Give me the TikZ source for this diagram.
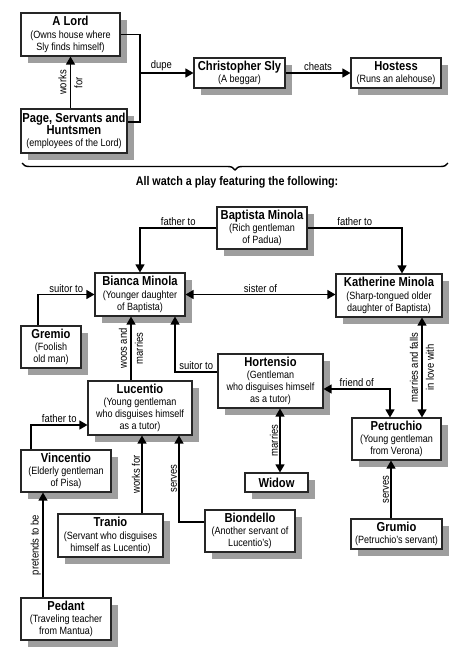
\documentclass[tikz,border=0pt]{standalone}
\usepackage{fontspec}
\setmainfont{Liberation Sans}[FakeStretch=0.86]
\usetikzlibrary{arrows.meta,shadows,decorations.pathreplacing}

\newcommand{\titlefont}{\bfseries\fontsize{13}{14}\selectfont}
\newcommand{\subfont}{\fontsize{10.5}{12.2}\selectfont}
\newcommand{\tagfont}{\fontsize{11}{13}\selectfont}
\newcommand{\headfont}{\bfseries\fontsize{12.5}{14}\selectfont}
\newcommand{\who}[2]{{\titlefont #1}\\#2}

\tikzset{
  role/.style={draw=black!85, line width=1.1pt, fill=white, align=center,
    inner sep=1pt, font=\subfont,
    drop shadow={shadow xshift=7pt, shadow yshift=-7pt, fill=black!38, opacity=1}},
  link/.style={line width=1.2pt, -{Triangle[length=8pt,width=9pt]}},
  both/.style={line width=1.2pt, {Triangle[length=8pt,width=9pt]}-{Triangle[length=8pt,width=9pt]}},
  tag/.style={font=\tagfont, inner sep=1.5pt},
}

\begin{document}
\begin{tikzpicture}[x=1pt,y=-1pt]
    \useasboundingbox (0,0) rectangle (474,662);

    % Induction: the Lord's trick on Sly
    \node[role, minimum width=99pt, minimum height=43pt] (lord) at (70.5,34.5) {\who{A Lord}{(Owns house where\\Sly finds himself)}};
    \node[role, minimum width=106pt, minimum height=44pt] (page) at (74,131) {{\titlefont Page, Servants and}\\{\titlefont Huntsmen}\\(employees of the Lord)};
    \node[role, minimum width=91pt, minimum height=30pt] (sly) at (239.5,73) {\who{Christopher Sly}{(A beggar)}};
    \node[role, minimum width=90pt, minimum height=30pt] (hostess) at (396,73) {\who{Hostess}{(Runs an alehouse)}};

    \draw[link] (lord.south |- page.north) -- node[tag, rotate=90, align=center] {works\\[3pt]for} (lord.south);
    \coordinate (dupej) at (140,73);
    \draw[line width=1.2pt] (lord.east) -| (dupej) |- ([yshift=9pt]page.east);
    \draw[link] (dupej) -- node[tag, above, pos=0.4] {dupe} (sly);
    \draw[link] (sly) -- node[tag, above] {cheats} (hostess);

    % Brace and heading
    \draw[line width=1.4pt, decorate, decoration={brace, amplitude=7pt}] (448,163) -- (22,163);
    \node[font=\headfont] (playhead) at (237,182) {All watch a play featuring the following:};

    % The play: Minola family
    \node[role, minimum width=90pt, minimum height=42pt] (baptista) at (262,228) {\who{Baptista Minola}{(Rich gentleman\\of Padua)}};
    \node[role, minimum width=90pt, minimum height=43pt] (bianca) at (140,294.5) {\who{Bianca Minola}{(Younger daughter\\of Baptista)}};
    \node[role, minimum width=106pt, minimum height=43pt] (katherine) at (389,295.5) {\who{Katherine Minola}{(Sharp-tongued older\\daughter of Baptista)}};

    % Suitors and their people
    \node[role, minimum width=60pt, minimum height=42pt] (gremio) at (51,347) {\who{Gremio}{(Foolish\\old man)}};
    \node[role, minimum width=104pt, minimum height=54pt] (lucentio) at (140,408) {\who{Lucentio}{(Young gentleman\\who disguises himself\\as a tutor)}};
    \node[role, minimum width=105pt, minimum height=54pt] (hortensio) at (270.5,381) {\who{Hortensio}{(Gentleman\\who disguises himself\\as a tutor)}};
    \node[role, minimum width=89pt, minimum height=42pt] (petruchio) at (396.5,439) {\who{Petruchio}{(Young gentleman\\from Verona)}};
    \node[role, minimum width=63pt, minimum height=19pt] (widow) at (276.5,482.5) {{\titlefont Widow}};
    \node[role, minimum width=91pt, minimum height=30pt] (grumio) at (396.5,534) {\who{Grumio}{(Petruchio's servant)}};
    \node[role, minimum width=90pt, minimum height=42pt] (vincentio) at (66,471) {\who{Vincentio}{(Elderly gentleman\\of Pisa)}};
    \node[role, minimum width=105pt, minimum height=43pt] (tranio) at (110.5,535.5) {\who{Tranio}{(Servant who disguises\\himself as Lucentio)}};
    \node[role, minimum width=90pt, minimum height=42pt] (biondello) at (250,531) {\who{Biondello}{(Another servant of\\Lucentio's)}};
    \node[role, minimum width=90pt, minimum height=42pt] (pedant) at (66,619) {\who{Pedant}{(Traveling teacher\\from Mantua)}};

    % Relations
    \draw[link] (baptista.west) -| node[tag, above, pos=0.25] {father to} (bianca.north);
    \draw[link] (baptista.east) -| node[tag, above, pos=0.25] {father to} ([xshift=13pt]katherine.north);
    \draw[both] (bianca.east) -- node[tag, above] {sister of} (bianca.east -| katherine.west);
    \draw[link] ([xshift=-13pt]gremio.north) |- node[tag, above, pos=0.75] {suitor to} (bianca.west);
    \draw[link] ([xshift=-9pt]lucentio.north) -- node[tag, rotate=90, align=center] {woos and\\[3pt]marries} ([xshift=-9pt]bianca.south);
    \draw[link] ([yshift=9pt]hortensio.west) -| node[tag, above, pos=0.25] {suitor to} ([xshift=35pt]bianca.south);
    \draw[both] ([yshift=-8pt]hortensio.east) -| node[tag, above, pos=0.25] {friend of} ([xshift=-6.5pt]petruchio.north);
    \draw[both] ([xshift=33pt]katherine.south) -- node[tag, rotate=90, align=center] {marries and falls\\[3pt]in love with} ([xshift=33pt]katherine.south |- petruchio.north);
    \draw[both] ([xshift=3.5pt]widow.north |- hortensio.south) -- node[tag, rotate=90, anchor=south] {marries} ([xshift=3.5pt]widow.north);
    \draw[link] ([xshift=-5.5pt]grumio.north) -- node[tag, rotate=90, anchor=south] {serves} ([xshift=-5.5pt]grumio.north |- petruchio.south);
    \draw[link] ([xshift=-35pt]vincentio.north) |- node[tag, above, pos=0.75] {father to} ([yshift=-17pt]lucentio.west);
    \draw[link] ([xshift=31.5pt]tranio.north) -- node[tag, rotate=90, anchor=south] {works for} ([xshift=31.5pt]tranio.north |- lucentio.south);
    \draw[link] ([yshift=9pt]biondello.west) -| node[tag, rotate=90, anchor=south, pos=0.75] {serves} ([xshift=39pt]lucentio.south);
    \draw[link] ([xshift=-23pt]pedant.north) -- node[tag, rotate=90, anchor=south] {pretends to be} ([xshift=-23pt]pedant.north |- vincentio.south);
\end{tikzpicture}
\end{document}
